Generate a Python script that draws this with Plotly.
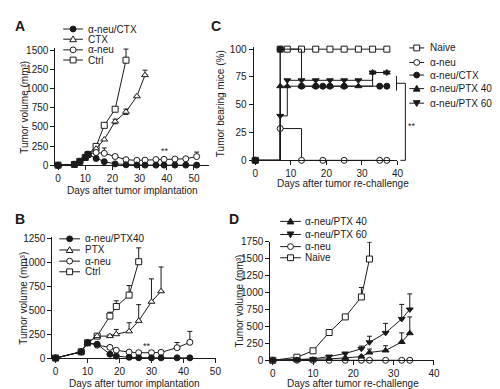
import plotly.graph_objects as go

W, H = 500, 389
INK = "#1a1a1a"
FONT = "Liberation Sans, Arial, sans-serif"

# ---------------- Panel A data ----------------
a_days = [0, 6, 8, 10, 11, 14, 17, 21, 25, 29, 32, 36, 39, 43, 47, 51]
a_aneu_ctx = [0, 10, 50, 100, 140, 88, 46, 17, 5, 2, 1, 1, 1, 1, 1, 1]
a_aneu = [0, 10, 50, 100, 145, 165, 155, 113, 72, 63, 66, 74, 76, 80, 84, 113]
a_aneu_err = [0, 0, 0, 0, 0, 0, 70, 18, 0, 0, 0, 0, 0, 0, 14, 58]
a_ctx_days = [0, 6, 8, 10, 11, 14, 17, 21, 25, 29, 32]
a_ctx = [0, 10, 50, 100, 140, 215, 335, 570, 697, 899, 1175]
a_ctx_err = [0, 0, 0, 0, 0, 0, 0, 30, 35, 0, 65]
a_ctx_errm = [0, 0, 0, 0, 0, 0, 0, 30, 35, 0, 0]
a_ctrl_days = [0, 6, 8, 10, 11, 14, 17, 21, 25]
a_ctrl = [0, 10, 50, 100, 140, 245, 520, 730, 1370]
a_ctrl_err = [0, 0, 0, 0, 0, 20, 15, 25, 145]

# ---------------- Panel B data ----------------
b_days = [0, 8, 10, 13, 17, 19, 23, 26, 30, 33, 38, 42]
b_aneu_ptx40 = [0, 65, 160, 145, 40, 20, 8, 3, 2, 2, 2, 2]
b_aneu = [0, 65, 160, 135, 112, 82, 62, 56, 56, 60, 108, 165]
b_aneu_err = [0, 0, 0, 0, 0, 0, 0, 0, 22, 0, 55, 115]
b_ptx_days = [0, 8, 10, 13, 17, 19, 23, 26, 30, 33]
b_ptx = [0, 65, 160, 230, 230, 250, 280, 390, 590, 700]
b_ptx_err = [0, 0, 0, 0, 15, 50, 90, 170, 240, 255]
b_ctrl_days = [0, 8, 10, 13, 17, 19, 23, 26]
b_ctrl = [0, 65, 160, 230, 440, 540, 660, 1010]
b_ctrl_err = [0, 0, 0, 0, 40, 60, 100, 145]

# ---------------- Panel C data ----------------
c_naive_days = [0, 7, 9, 13, 17, 21, 25, 29, 33, 37]
c_naive = [0, 100, 100, 100, 100, 100, 100, 100, 100, 100]
c_aneu_days = [0, 7, 13, 19, 25, 35, 37]
c_aneu = [0, 28.6, 0, 0, 0, 0, 0]
c_ctx_days = [0, 7, 13, 17, 19, 21, 25, 35, 37]
c_ctx = [0, 100, 66.7, 66.7, 66.7, 66.7, 66.7, 66.7, 66.7]
c_ptx40_days = [0, 7, 9, 13, 17, 21, 25, 29, 33, 37]
c_ptx40 = [0, 66.7, 66.7, 66.7, 66.7, 66.7, 66.7, 66.7, 79, 79]
c_ptx60_days = [0, 7, 9, 13, 17, 21, 25, 29, 33, 37]
c_ptx60 = [0, 40, 72, 72, 72, 72, 72, 72, 79, 79]

# ---------------- Panel D data ----------------
d_days = [0, 6, 10, 14, 18, 22, 24, 28, 32, 34]
d_ptx40 = [0, 5, 8, 20, 35, 55, 115, 145, 270, 400]
d_ptx40_err = [0, 0, 0, 0, 10, 15, 50, 70, 135, 240]
d_ptx60 = [0, 10, 20, 55, 100, 170, 265, 405, 610, 750]
d_ptx60_err = [0, 0, 0, 10, 15, 40, 90, 140, 215, 230]
d_aneu = [0, 0, 0, 0, 0, 0, 0, 0, 0, 0]
d_naive_days = [0, 6, 10, 14, 18, 22, 24]
d_naive = [0, 45, 140, 410, 640, 935, 1495]
d_naive_err = [0, 0, 0, 0, 0, 140, 250]


def px(x, y):
    return x / W, 1 - y / H


fig = go.Figure()

STY = {
    "fcircle": ("circle", INK),
    "ocircle": ("circle", "white"),
    "osquare": ("square", "white"),
    "otri": ("triangle-up", "white"),
    "ftri": ("triangle-up", INK),
    "fdtri": ("triangle-down", INK),
}


def add(xs, ys, ax, sty, err=None, errm=None, shape="linear", size=6):
    sym, fill = STY[sty]
    ey = None
    if err is not None:
        ey = dict(type="data", array=err, arrayminus=errm if errm is not None else [0] * len(err),
                  symmetric=False, color=INK, thickness=1, width=2.5)
    fig.add_trace(go.Scatter(
        x=xs, y=ys, xaxis="x" + ax, yaxis="y" + ax, mode="lines+markers",
        line=dict(color=INK, width=1, shape=shape),
        marker=dict(symbol=sym, size=size, color=fill, line=dict(color=INK, width=1)),
        error_y=ey, cliponaxis=False, showlegend=False, hoverinfo="skip"))


# A
add(a_ctrl_days, a_ctrl, "", "osquare", a_ctrl_err)
add(a_ctx_days, a_ctx, "", "otri", a_ctx_err, a_ctx_errm)
add(a_days, a_aneu, "", "ocircle", a_aneu_err)
add(a_days, a_aneu_ctx, "", "fcircle")
# B
add(b_ctrl_days, b_ctrl, "2", "osquare", b_ctrl_err)
add(b_ptx_days, b_ptx, "2", "otri", b_ptx_err)
add(b_days, b_aneu, "2", "ocircle", b_aneu_err)
add(b_days, b_aneu_ptx40, "2", "fcircle")
# C
add(c_naive_days, c_naive, "3", "osquare", shape="hv")
add(c_aneu_days, c_aneu, "3", "ocircle", shape="hv")
add(c_ctx_days, c_ctx, "3", "fcircle", shape="hv")
add(c_ptx40_days, c_ptx40, "3", "ftri", shape="hv")
add(c_ptx60_days, c_ptx60, "3", "fdtri", shape="hv")
# D
add(d_naive_days, d_naive, "4", "osquare", d_naive_err)
add(d_days, d_aneu, "4", "ocircle")
add(d_days, d_ptx60, "4", "fdtri", d_ptx60_err)
add(d_days, d_ptx40, "4", "ftri", d_ptx40_err)

ax_common = dict(showline=True, linecolor=INK, linewidth=1, ticks="outside", ticklen=4,
                 tickwidth=1, tickcolor=INK, showgrid=False, zeroline=False,
                 tickfont=dict(family=FONT, size=10, color=INK))


def dom_x(a, b):
    return [a / W, b / W]


def dom_y(top, bottom):
    return [1 - bottom / H, 1 - top / H]


fig.update_layout(
    width=W, height=H, margin=dict(l=0, r=0, t=0, b=0),
    paper_bgcolor="white", plot_bgcolor="white", showlegend=False,
    xaxis=dict(domain=dom_x(47, 203), range=[-1, 55.6], tickvals=[0, 10, 20, 30, 40, 50], anchor="y", **ax_common),
    yaxis=dict(domain=dom_y(35, 156), range=[0, 1530], tickvals=[0, 250, 500, 750, 1000, 1250, 1500], anchor="x", **ax_common),
    xaxis2=dict(domain=dom_x(44, 210), range=[-1, 50.2], tickvals=[0, 10, 20, 30, 40, 50], anchor="y2", **ax_common),
    yaxis2=dict(domain=dom_y(230, 355), range=[0, 1270], tickvals=[0, 250, 500, 750, 1000, 1250], anchor="x2", **ax_common),
    xaxis3=dict(domain=dom_x(248, 394), range=[-0.5, 40], tickvals=[0, 10, 20, 30, 40], anchor="y3", **ax_common),
    yaxis3=dict(domain=dom_y(34, 151), range=[0, 102], tickvals=[0, 25, 50, 75, 100], anchor="x3", **ax_common),
    xaxis4=dict(domain=dom_x(265, 431), range=[-0.6, 40], tickvals=[0, 10, 20, 30, 40], anchor="y4", **ax_common),
    yaxis4=dict(domain=dom_y(235, 357.3), range=[0, 1750], tickvals=[0, 250, 500, 750, 1000, 1250, 1500, 1750], anchor="x4", **ax_common),
)

shapes = []
annots = []


def text(x, y, s, size=10, bold=False, angle=0, anchor="left"):
    xx, yy = px(x, y)
    annots.append(dict(x=xx, y=yy, xref="paper", yref="paper", text=s,
                       showarrow=False, xanchor=anchor, yanchor="middle", textangle=angle,
                       font=dict(family=FONT, size=size, color=INK, weight=700 if bold else 400)))


def seg(x0, y0, x1, y1):
    a0, b0 = px(x0, y0)
    a1, b1 = px(x1, y1)
    shapes.append(dict(type="line", xref="paper", yref="paper", x0=a0, y0=b0, x1=a1, y1=b1,
                       line=dict(color=INK, width=1)))


def key(x0, x1, y, sty, label, tx):
    seg(x0, y, x1, y)
    cx = (x0 + x1) / 2
    sym, fill = STY[sty]
    r = 3
    ln = dict(color=INK, width=1)
    if sym == "circle":
        a0, b0 = px(cx - r, y + r)
        a1, b1 = px(cx + r, y - r)
        shapes.append(dict(type="circle", xref="paper", yref="paper", x0=a0, y0=b0, x1=a1, y1=b1,
                           fillcolor=fill, line=ln))
    elif sym == "square":
        a0, b0 = px(cx - r, y + r)
        a1, b1 = px(cx + r, y - r)
        shapes.append(dict(type="rect", xref="paper", yref="paper", x0=a0, y0=b0, x1=a1, y1=b1,
                           fillcolor=fill, line=ln))
    else:
        if sym == "triangle-up":
            pts = [(cx - 3.4, y + 2.6), (cx + 3.4, y + 2.6), (cx, y - 3.4)]
        else:
            pts = [(cx - 3.4, y - 2.6), (cx + 3.4, y - 2.6), (cx, y + 3.4)]
        p = "M " + " L ".join("%.5f %.5f" % px(a, b) for a, b in pts) + " Z"
        shapes.append(dict(type="path", xref="paper", yref="paper", path=p, fillcolor=fill, line=ln))
    text(tx, y, label)


# Legends
key(55, 75, 15.5, "fcircle", "α-neu/CTX", 78)
key(55, 75, 26, "otri", "CTX", 78)
key(55, 75, 37, "ocircle", "α-neu", 78)
key(55, 75, 47.5, "osquare", "Ctrl", 78)

key(51, 72, 232, "fcircle", "α-neu/PTX40", 75)
key(51, 72, 243.5, "otri", "PTX", 75)
key(51, 72, 255, "ocircle", "α-neu", 75)
key(51, 72, 266, "osquare", "Ctrl", 75)

key(406, 421, 35, "osquare", "Naive", 425)
key(406, 421, 50, "ocircle", "α-neu", 425)
key(406, 421, 63, "fcircle", "α-neu/CTX", 425)
key(406, 421, 77, "ftri", "α-neu/PTX 40", 425)
key(406, 421, 92, "fdtri", "α-neu/PTX 60", 425)

key(275, 296, 214, "ftri", "α-neu/PTX 40", 298)
key(275, 296, 227.5, "fdtri", "α-neu/PTX 60", 298)
key(275, 296, 240, "ocircle", "α-neu", 298)
key(275, 296, 251.5, "osquare", "Naive", 298)

# Bracket in C
seg(393, 64, 393, 79)
seg(393, 71.5, 402, 71.5)
seg(402, 71.5, 402, 151)
seg(397, 151, 402, 151)

# Panel letters
text(4, 12, "A", size=14, bold=True)
text(4, 212, "B", size=14, bold=True)
text(203, 12, "C", size=14, bold=True)
text(221, 212, "D", size=14, bold=True)

# Axis titles
text(125, 182, "Days after tumor implantation", anchor="center")
text(127, 381, "Days after tumor implantation", anchor="center")
text(339, 175, "Days after tumor re-challenge", anchor="center")
text(349, 381, "Days after tumor re-challenge", anchor="center")
text(15, 96, "Tumor volume (mm³)", angle=-90, anchor="center")
text(15, 293, "Tumor volume (mm³)", angle=-90, anchor="center")
text(214, 93, "Tumor bearing mice (%)", angle=-90, anchor="center")
text(234, 296, "Tumor volume (mm³)", angle=-90, anchor="center")

# significance marks
text(158, 141, "**", size=9, anchor="center")
text(140, 343, "**", size=9, anchor="center")
text(409, 116, "**", size=9, anchor="center")

fig.update_layout(shapes=shapes, annotations=annots)
fig.write_html("out.html")
